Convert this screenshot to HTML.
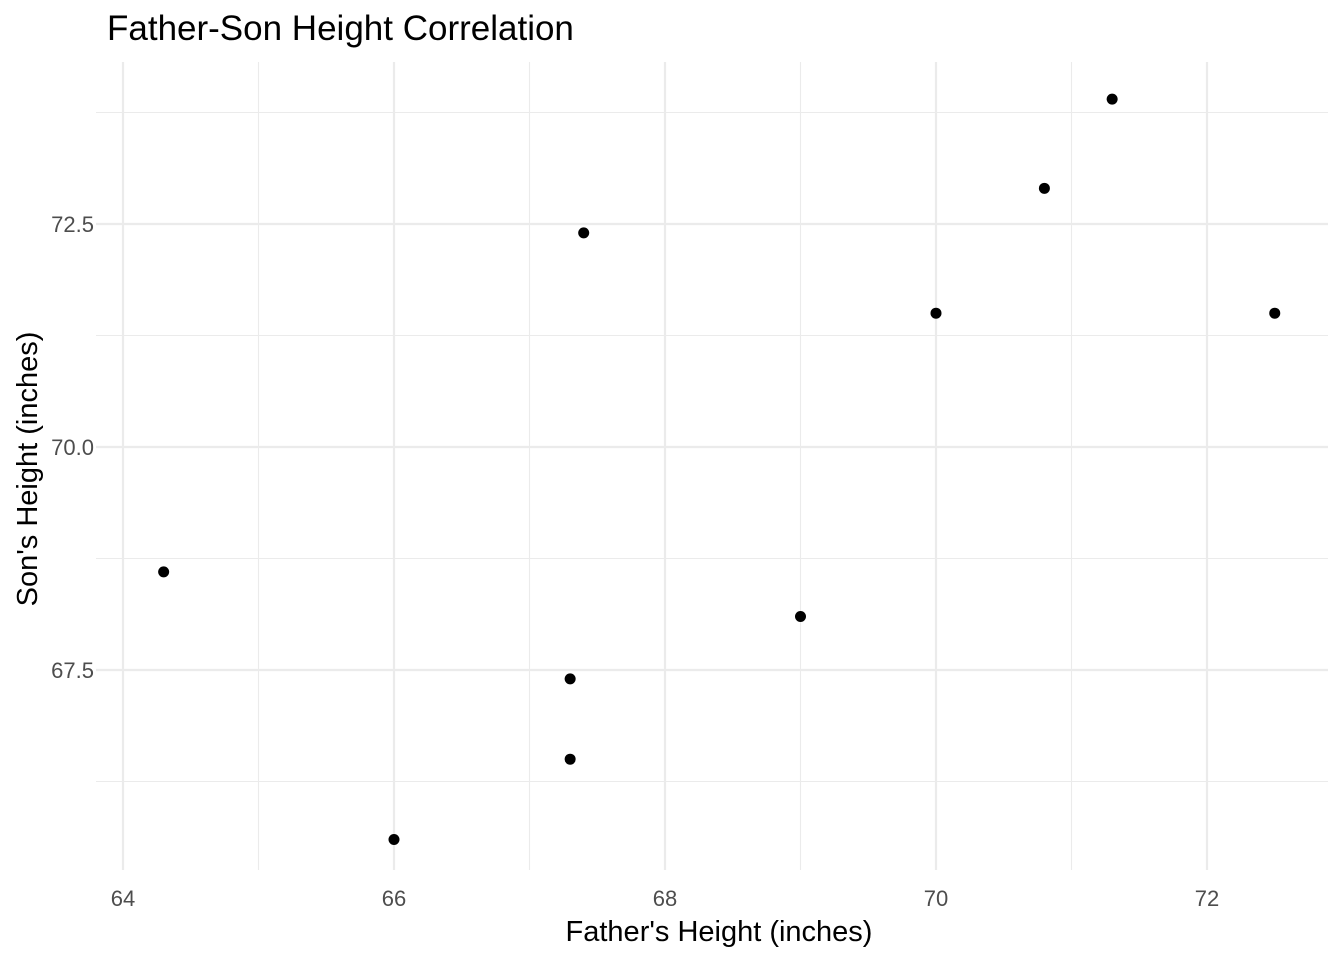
<!DOCTYPE html>
<html><head><meta charset="utf-8"><style>
body{margin:0;background:#fff;}
svg{display:block;font-family:"Liberation Sans",Arial,sans-serif;}
</style></head><body>
<svg id="chart" width="1344" height="960" viewBox="0 0 1344 960">
<rect width="1344" height="960" fill="#fff"/>
<text x="107" y="40" style="font-size:35px" fill="#000">Father-Son Height Correlation</text>
<g id="grid"></g>
<g id="ticks"></g>
<g id="points"></g>
<text x="719" y="941" style="font-size:29px" text-anchor="middle" fill="#000">Father's Height (inches)</text>
<text transform="translate(37,469) rotate(-90)" style="font-size:29px" text-anchor="middle" fill="#000">Son's Height (inches)</text>
</svg>
<script>
const fatherHeights = [64.3, 66.0, 67.3, 67.3, 67.4, 69.0, 70.0, 70.8, 71.3, 72.5];
const sonHeights = [68.6, 65.6, 67.4, 66.5, 72.4, 68.1, 71.5, 72.9, 73.9, 71.5];
const xTicks = [64, 66, 68, 70, 72];
const xMinor = [65, 67, 69, 71];
const yTicks = [67.5, 70.0, 72.5];
const yTickLabels = ["67.5", "70.0", "72.5"];
const yMinor = [66.25, 68.75, 71.25, 73.75];

const L=96,R=1328,T=62,B=870;
const sx=v=>123+(v-64)*135.5;
const sy=v=>447-(v-70)*89.2;
const NS="http://www.w3.org/2000/svg";
function mk(tag,attrs,parent){const e=document.createElementNS(NS,tag);for(const k in attrs)e.setAttribute(k,attrs[k]);parent.appendChild(e);return e;}
const grid=document.getElementById('grid'),ticks=document.getElementById('ticks'),pts=document.getElementById('points');
yMinor.forEach(v=>{const e=mk('line',{x1:L,x2:R,y1:sy(v),y2:sy(v),stroke:'#ebebeb','stroke-width':1.1},grid);

});
xMinor.forEach(v=>{const e=mk('line',{x1:sx(v),x2:sx(v),y1:T,y2:B,stroke:'#ebebeb','stroke-width':1.1},grid);

});
yTicks.forEach((v,i)=>{const e=mk('line',{x1:L,x2:R,y1:sy(v),y2:sy(v),stroke:'#ebebeb','stroke-width':2.2},grid);


const t=mk('text',{x:94,y:sy(v)+8,style:'font-size:22px','text-anchor':'end',fill:'#4d4d4d'},ticks);t.textContent=yTickLabels[i];

});
xTicks.forEach(v=>{const e=mk('line',{x1:sx(v),x2:sx(v),y1:T,y2:B,stroke:'#ebebeb','stroke-width':2.2},grid);


const t=mk('text',{x:sx(v),y:906,style:'font-size:22px','text-anchor':'middle',fill:'#4d4d4d'},ticks);t.textContent=String(v);

});
fatherHeights.forEach((f,i)=>{const c=mk('circle',{cx:sx(f),cy:sy(sonHeights[i]),r:5.5,fill:'#000'},pts);

});
</script>
</body></html>
